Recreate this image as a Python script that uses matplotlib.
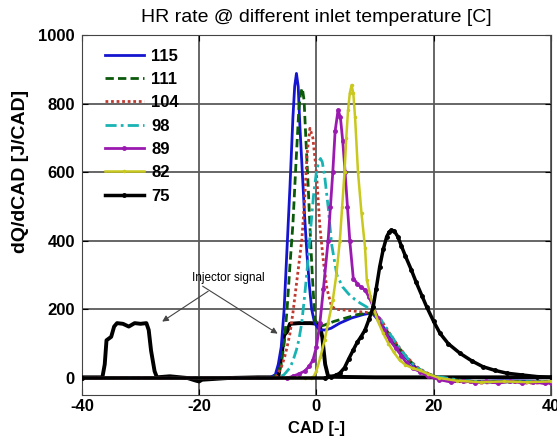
import matplotlib
matplotlib.use('Agg')
import matplotlib.pyplot as plt

plt.rcParams['font.family'] = ['Liberation Sans', 'DejaVu Sans']
plt.rcParams['axes.unicode_minus'] = False

# heat release rate curves (CAD, J/CAD)
x115 = [-40, -8, -7, -6.5, -6, -5.5, -5, -4.5, -4, -3.7, -3.4, -3.1, -2.8, -2.4, -2, -1.6, -1.2,
        -0.8, -0.3, 0.5, 1.5, 2.5, 4, 6, 8, 9.5, 11, 12.5, 14, 15.5, 17, 18.5, 20, 23, 27, 32, 40]
y115 = [0, 0, 10, 40, 90, 200, 380, 560, 760, 850, 888, 850, 730, 600, 470, 360, 270,
        200, 160, 140, 140, 145, 160, 175, 185, 190, 160, 120, 85, 55, 30, 15, 5, -5, -10, -8, -10]

x111 = [-40, -7.5, -6.5, -6, -5.5, -5, -4.5, -4, -3.5, -3, -2.7, -2.4, -2.1, -1.8, -1.4, -1.1,
        -0.7, -0.25, 0.5, 1.5, 3, 5, 7, 9.5, 11, 12.5, 14, 15.5, 17, 18.5, 20, 24, 28, 33, 40]
y111 = [0, 0, 15, 40, 100, 200, 330, 450, 620, 780, 830, 845, 810, 700, 560, 441,
        300, 170, 150, 155, 165, 175, 185, 190, 165, 125, 90, 58, 32, 16, 6, -6, -12, -10, -12]

x104 = [-40, -7, -6, -5.4, -5, -4.5, -4, -3.5, -3, -2.5, -2, -1.6, -1.1, -0.6, 0, 0.6, 1.2,
        1.8, 2.6, 3.5, 5, 6.5, 8, 9.5, 11, 12.5, 14, 15.5, 17, 18.5, 20, 24, 28, 32, 36, 40]
y104 = [0, 0, 30, 62, 90, 130, 190, 260, 330, 400, 520, 650, 728, 700, 600, 441, 340,
        260, 208, 200, 198, 195, 192, 190, 170, 130, 92, 60, 34, 18, 6, -10, -15, -12, -15, -14]

x98 = [-40, -6.5, -5.5, -4.5, -4, -3.4, -3, -2.5, -2, -1.5, -1, -0.5, 0, 0.4, 0.7, 1, 1.4,
       2, 2.6, 3.5, 4.5, 5.5, 6.5, 7.5, 8.6, 9.5, 11, 12.5, 14, 15.5, 17, 18.5, 20, 25, 30, 40]
y98 = [0, 0, 10, 30, 50, 82, 110, 160, 240, 330, 430, 530, 600, 630, 640, 630, 590,
       500, 390, 300, 265, 245, 230, 218, 207, 192, 170, 130, 92, 58, 32, 16, 6, -8, -12, -10]

x89 = [-40, -5, -4, -3, -2, -1.2, -0.6, 0, 0.6, 1.2, 2, 2.4, 2.8, 3.2, 3.7, 4.1, 4.5, 4.9,
       5.3, 5.7, 6.3, 7, 7.6, 8.3, 9, 9.7, 10.5, 11.5, 12.5, 13.5, 14.5, 15.4, 16.5, 17.7,
       19, 21, 23, 25, 27, 29, 31, 33, 35, 37, 39, 40]
y89 = [0, 0, 5, 12, 20, 35, 52, 90, 160, 260, 400, 500, 600, 720, 781, 760, 690, 600,
       500, 400, 290, 275, 265, 257, 235, 208, 175, 140, 111, 88, 65, 43, 28, 18,
       5, -5, -12, -8, -14, -10, -15, -10, -14, -12, -16, -14]

x82 = [-40, -2, -1, -0.5, 0, 0.7, 1.4, 2, 2.8, 3.4, 4, 4.4, 4.8, 5.1, 5.4, 5.7, 6, 6.3,
       6.6, 7.1, 7.7, 8.3, 8.6, 9.2, 9.7, 10.5, 11.4, 12.3, 13.2, 14.2, 15.2, 16.5, 17.7,
       19, 21, 24, 28, 32, 36, 40]
y82 = [0, 0, 0, 4, 20, 62, 110, 160, 227, 300, 400, 500, 600, 700, 780, 830, 854, 830,
       760, 600, 480, 380, 286, 240, 208, 165, 130, 100, 75, 52, 38, 28, 22,
       12, 0, -8, -12, -10, -12, -10]

x75 = [-40, 1.5, 2.5, 3.3, 4, 4.8, 5.5, 6.3, 7, 7.6, 8.3, 9, 9.7, 10.2, 10.8, 11.4, 12, 12.4,
       12.8, 13.3, 13.9, 14.5, 15.2, 16.2, 17, 18, 18.8, 20, 21.1, 22.5, 24.5, 26.5, 28.4,
       30.5, 32.5, 35, 37.7, 40]
y75 = [0, 0, 3, 8, 14, 30, 55, 82, 105, 120, 140, 172, 208, 260, 324, 375, 412, 425,
       431, 428, 412, 385, 355, 315, 280, 240, 208, 165, 130, 100, 72, 50, 33,
       22, 14, 9, 4, 2]

# injector signal trace
x_inj = [-40, -36.5, -36.1, -35.8, -35, -34.5, -34, -33, -32, -31, -30, -29, -28.6, -28.2,
         -27.6, -27.2, -25, -22, -20.5, -20, -19.5, -15, -10, -6.5, -6, -5.5, -5, -4.5, -3,
         -1, 0.5, 1, 1.5, 2, 5, 10, 20, 30, 40]
y_inj = [2, 2, 40, 110, 120, 150, 160, 158, 150, 160, 158, 160, 140, 80,
         20, 2, 5, 0, -8, -10, -5, 0, 2, 2, 60, 125, 135, 158, 160,
         160, 158, 120, 40, 5, 3, 2, 2, 2, 2]

series = [
    ('115', x115, y115, dict(color='#1515d0', linestyle='-', linewidth=2)),
    ('111', x111, y111, dict(color='#0b5a0b', linestyle=(0, (3, 1.5)), linewidth=2)),
    ('104', x104, y104, dict(color='#c03a30', linestyle=(0, (1, 1)), linewidth=2)),
    ('98', x98, y98, dict(color='#1ab3b3', linestyle=(0, (4, 1.5, 1, 1.5)), linewidth=2)),
    ('89', x89, y89, dict(color='#9a1ab0', linestyle='-', linewidth=2, marker='.', markersize=5)),
    ('82', x82, y82, dict(color='#c8c81e', linestyle='-', linewidth=1.8, marker='.', markersize=3)),
    ('75', x75, y75, dict(color='black', linestyle='-', linewidth=2.5, marker='.', markersize=5)),
]

fig = plt.figure(figsize=(5.57, 4.43), dpi=100)
ax = fig.add_axes([0.147, 0.108, 0.842, 0.813])

ax.plot(x_inj, y_inj, color='black', linewidth=2.8, zorder=3)
for label, xs, ys, style in series:
    ax.plot(xs, ys, label=label, zorder=4, **style)

ax.set_xlim(-40, 40)
ax.set_ylim(-50, 1000)
ax.set_xticks([-40, -20, 0, 20, 40])
ax.set_yticks([0, 200, 400, 600, 800, 1000])
ax.grid(True, color='#5a5a5a', linewidth=1.3)
ax.tick_params(direction='in', labelsize=12, length=4, top=True, right=True, pad=5)
ax.tick_params(axis='x', pad=3)
for t in ax.get_xticklabels() + ax.get_yticklabels():
    t.set_fontweight('bold')
for s in ax.spines.values():
    s.set_color('#444444')

ax.set_title('HR rate @ different inlet temperature [C]', fontsize=14, pad=9)
ax.set_xlabel('CAD [-]', fontsize=12, fontweight='bold', labelpad=5)
ax.set_ylabel('dQ/dCAD [J/CAD]', fontsize=14, fontweight='bold')
ax.yaxis.set_label_coords(-0.113, 0.62)

arrow = dict(arrowstyle='-|>', color='#444444', linewidth=0.8, mutation_scale=9)
ax.annotate('Injector signal', xy=(-26.7, 160), xytext=(-15, 292), fontsize=8.5,
            ha='center', va='center', arrowprops=dict(shrinkA=6, **arrow))
ax.annotate('', xy=(-6.2, 125), xytext=(-19.8, 272), arrowprops=arrow)

leg = ax.legend(loc='upper left', bbox_to_anchor=(0.039, 0.976), frameon=False,
                prop=dict(size=12, weight='bold'), handlelength=2.3, labelspacing=0.5,
                borderaxespad=0, borderpad=0.3, handletextpad=0.45)

fig.savefig('out.png', dpi=100)
